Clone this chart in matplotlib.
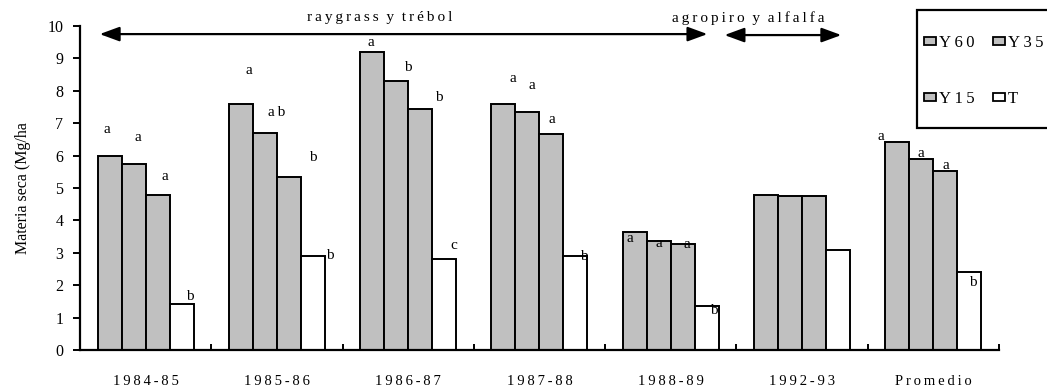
import matplotlib
matplotlib.use("Agg")
import matplotlib.pyplot as plt
import numpy as np
from matplotlib.patches import Patch, Rectangle

plt.rcParams['font.family'] = ['Liberation Serif', 'DejaVu Serif']

# --- datos ---
periodos = ['1984-85', '1985-86', '1986-87', '1987-88', '1988-89', '1992-93', 'Promedio']
series = ['Y60', 'Y35', 'Y15', 'T']
y60 = [6.0, 7.58, 9.19, 7.58, 3.63, 4.79, 6.41]
y35 = [5.73, 6.71, 8.31, 7.33, 3.37, 4.74, 5.90]
y15 = [4.78, 5.35, 7.45, 6.67, 3.26, 4.74, 5.53]
t = [1.41, 2.89, 2.82, 2.89, 1.35, 3.08, 2.40]
letras = [
    ['a', 'a', 'a', 'b'],
    ['a', 'ab', 'b', 'b'],
    ['a', 'b', 'b', 'c'],
    ['a', 'a', 'a', 'b'],
    ['a', 'a', 'a', 'b'],
    ['', '', '', ''],
    ['a', 'a', 'a', 'b'],
]

# desplazamiento de las letras (pixeles) respecto al centro/tope de cada barra
desp = [
    [(-3, 26), (4, 27), (7, 19), (8, 8)],
    [(8, 34), (12, 20), (24, 19), (17, 1)],
    [(-1, 10), (12, 13), (19, 11), (10, 13)],
    [(9, 26), (4, 27), (0, 14), (8, 0)],
    [(-5, -6), (0, -3), (4, 0), (7, -4)],
    [(0, 0), (0, 0), (0, 0), (0, 0)],
    [(-16, 6), (0, 5), (1, 5), (4, -10)],
]


def espaciado(s, sep='\u2009'):
    # letras separadas como en el original
    return sep.join(list(s)).replace(sep + ' ' + sep, '  ')


fig = plt.figure(figsize=(10.47, 3.88), dpi=100)
ax = fig.add_axes([0.0764, 0.098, 0.954 - 0.0764, 0.835])

valores = [y60, y35, y15, t]
colores = ['#c0c0c0', '#c0c0c0', '#c0c0c0', 'white']
w = 0.183
x = np.arange(len(periodos))
for k, vals in enumerate(valores):
    xs = x + (k - 1.5) * w
    ax.bar(xs, vals, width=w, color=colores[k], edgecolor='black', linewidth=1.4, zorder=2)
    for i, v in enumerate(vals):
        lt = letras[i][k]
        if lt:
            dx, dy = desp[i][k]
            ax.annotate(espaciado(lt), xy=(xs[i], v), xytext=(dx, dy),
                        textcoords='offset pixels', ha='center', va='center', fontsize=11)

ax.set_xlim(-0.5, len(periodos) - 0.5)
ax.set_ylim(0, 10)
ax.set_yticks(range(0, 11))
ax.tick_params(axis='y', direction='out', length=5, width=1.4, labelsize=11.5, pad=7)
ax.set_xticks(x)
ax.set_xticklabels([espaciado(p) for p in periodos], fontsize=10.5)
ax.tick_params(axis='x', which='major', length=0, pad=18)
ax.set_xticks(np.arange(len(periodos) + 1) - 0.5, minor=True)
ax.tick_params(axis='x', which='minor', direction='in', length=4, width=1.4)
for s in ['top', 'right']:
    ax.spines[s].set_visible(False)
for s in ['left', 'bottom']:
    ax.spines[s].set_linewidth(1.6)
ax.set_ylabel('Materia seca (Mg/ha', fontsize=11.5, labelpad=12)

# periodos de pasturas
flecha = dict(arrowstyle='<|-|>,head_length=0.6,head_width=0.22', color='black', lw=1.6,
              shrinkA=0, shrinkB=0, mutation_scale=20)
ax.annotate('', xy=(-0.35, 9.75), xytext=(4.28, 9.75), arrowprops=flecha, annotation_clip=False)
ax.annotate('', xy=(4.41, 9.72), xytext=(5.30, 9.72), arrowprops=flecha, annotation_clip=False)
ax.text(1.78, 10.25, espaciado('raygrass y trébol'), ha='center', va='center', fontsize=11, clip_on=False)
ax.text(4.59, 10.25, espaciado('agropiro y alfalfa'), ha='center', va='center', fontsize=11, clip_on=False)

# leyenda
fig.patches.append(Rectangle((916.7 / 1047, 1 - 127.7 / 388), 0.2, 117.7 / 388,
                             transform=fig.transFigure, facecolor='white', edgecolor='black',
                             linewidth=1.6, zorder=3))
orden = [0, 2, 1, 3]
handles = [Patch(facecolor=colores[k], edgecolor='black', linewidth=1.3, label=espaciado(series[k]))
           for k in orden]
fig.legend(handles=handles, ncol=2, loc='upper left', bbox_to_anchor=(919 / 1047, 1 - 30 / 388),
           frameon=False, fontsize=12, handlelength=0.7, handleheight=0.4, handletextpad=0.2,
           labelspacing=2.4, columnspacing=1.1, borderpad=0.3, borderaxespad=0)

fig.savefig('out.png', dpi=100)
